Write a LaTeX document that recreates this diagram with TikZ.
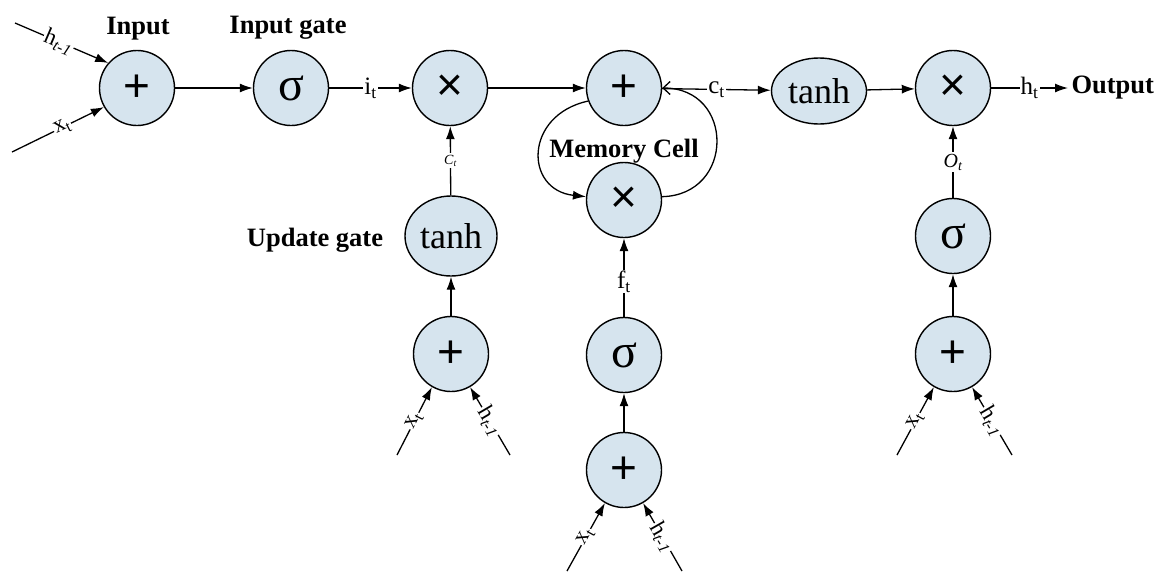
\documentclass[tikz,border=0pt]{standalone}
\usepackage{fontspec}
\setmainfont{Liberation Serif}
\newfontfamily\symf{Liberation Sans}
\usetikzlibrary{arrows.meta,shapes.geometric}
\definecolor{cellblue}{HTML}{D6E4EE}
\begin{document}
\begin{tikzpicture}[x=1pt,y=-1pt,
  op/.style={circle,draw,line width=1.4pt,fill=cellblue,minimum size=75pt,inner sep=0pt},
  ell/.style={ellipse,draw,line width=1.4pt,fill=cellblue,inner sep=0pt,font=\fontsize{36}{36}\selectfont},
  sym/.style={font=\symf\fontsize{46}{46}\selectfont},
  sig/.style={font=\fontsize{48}{48}\selectfont},
  arr/.style={line width=1.3pt,-{Latex[length=13pt,width=9pt]}},
  barb/.style={line width=1.3pt,-{Straight Barb[length=7pt,width=13pt]}},
  lbl/.style={fill=white,inner sep=1pt,font=\fontsize{25}{25}\selectfont},
  inlbl/.style={fill=white,inner sep=1pt,font=\fontsize{23}{23}\selectfont},
  tiny/.style={fill=white,inner sep=1.5pt,font=\itshape\fontsize{14}{14}\selectfont},
  small/.style={fill=white,inner sep=1.5pt,font=\itshape\fontsize{20}{20}\selectfont},
  title/.style={font=\bfseries\fontsize{26.5}{26.5}\selectfont}
]
\useasboundingbox (0,0) rectangle (1163,571);

% operation nodes
\node[op,sym] (inp) at (137,88) {+};
\node[op,sig] (ig) at (291,88) {σ};
\node[op,sym] (mi) at (450,88) {×};
\node[op,sym] (add) at (624,88) {+};
\node[ell,minimum width=95pt,minimum height=66pt] (th) at (819,91) {tanh};
\node[op,sym] (mo) at (953,88) {×};
\node[op,sym] (mf) at (624,200) {×};
\node[ell,minimum width=92pt,minimum height=80pt] (ut) at (451,236) {tanh};
\node[op,sym] (ua) at (451,354) {+};
\node[op,sig] (fs) at (624,355) {σ};
\node[op,sym] (fa) at (624,470) {+};
\node[op,sig] (os) at (953,236) {σ};
\node[op,sym] (oa) at (953,354) {+};

% titles
\node[title] (tin) at (138,29) {Input};
\node[title] (tig) at (288,28) {Input gate};
\node[title] (tug) at (315,240) {Update gate};
\node[title] (tmc) at (624,151) {Memory Cell};
\node[title,anchor=west] (tout) at (1068,88) {Output};

% main row
\draw[arr] (inp) -- (ig);
\draw[arr] (ig) -- node[lbl]{i\textsubscript{t}} (mi);
\draw[arr] (mi) -- (add);
\draw[arr] (add) -- node[lbl]{c\textsubscript{t}} (th);
\draw[arr] (th) -- (mo);
\draw[arr] (mo.east) -- node[lbl]{h\textsubscript{t}} (tout.west);

% columns
\draw[arr] (ut) -- node[tiny]{C\textsubscript{t}} (mi);
\draw[arr] (ua) -- (ut);
\draw[arr] (fs) -- node[lbl,pos=0.45]{f\textsubscript{t}} (mf);
\draw[arr] (fa) -- (fs);
\draw[arr] (os) -- node[small]{O\textsubscript{t}} (mo);
\draw[arr] (oa) -- (os);

% memory loop
\draw[arr] (add.200) .. controls (524,115) and (524,190) .. (mf.175);
\draw[barb] (mf.5) .. controls (735,195) and (735,88) .. (add.east);

% inputs
\coordinate (h0) at (15,23);
\coordinate (x0) at (12,152);
\draw[arr] (h0) -- node[inlbl,sloped,pos=0.47]{h\textsubscript{\itshape t-1}} (inp.139);
\draw[arr] (x0) -- node[inlbl,sloped,pos=0.55]{x\textsubscript{t}} (inp.210);

\coordinate (ux) at (397,455);
\coordinate (uh) at (510,455);
\draw[arr] (ux) -- node[inlbl,sloped]{x\textsubscript{t}} (ua.240);
\draw[arr] (uh) -- node[inlbl,sloped]{h\textsubscript{\itshape t-1}} (ua.300);

\coordinate (fx) at (567,571);
\coordinate (fh) at (682,571);
\draw[arr] (fx) -- node[inlbl,sloped]{x\textsubscript{t}} (fa.240);
\draw[arr] (fh) -- node[inlbl,sloped]{h\textsubscript{\itshape t-1}} (fa.300);

\coordinate (ox) at (897,455);
\coordinate (oh) at (1012,455);
\draw[arr] (ox) -- node[inlbl,sloped]{x\textsubscript{t}} (oa.240);
\draw[arr] (oh) -- node[inlbl,sloped]{h\textsubscript{\itshape t-1}} (oa.300);
\end{tikzpicture}
\end{document}
